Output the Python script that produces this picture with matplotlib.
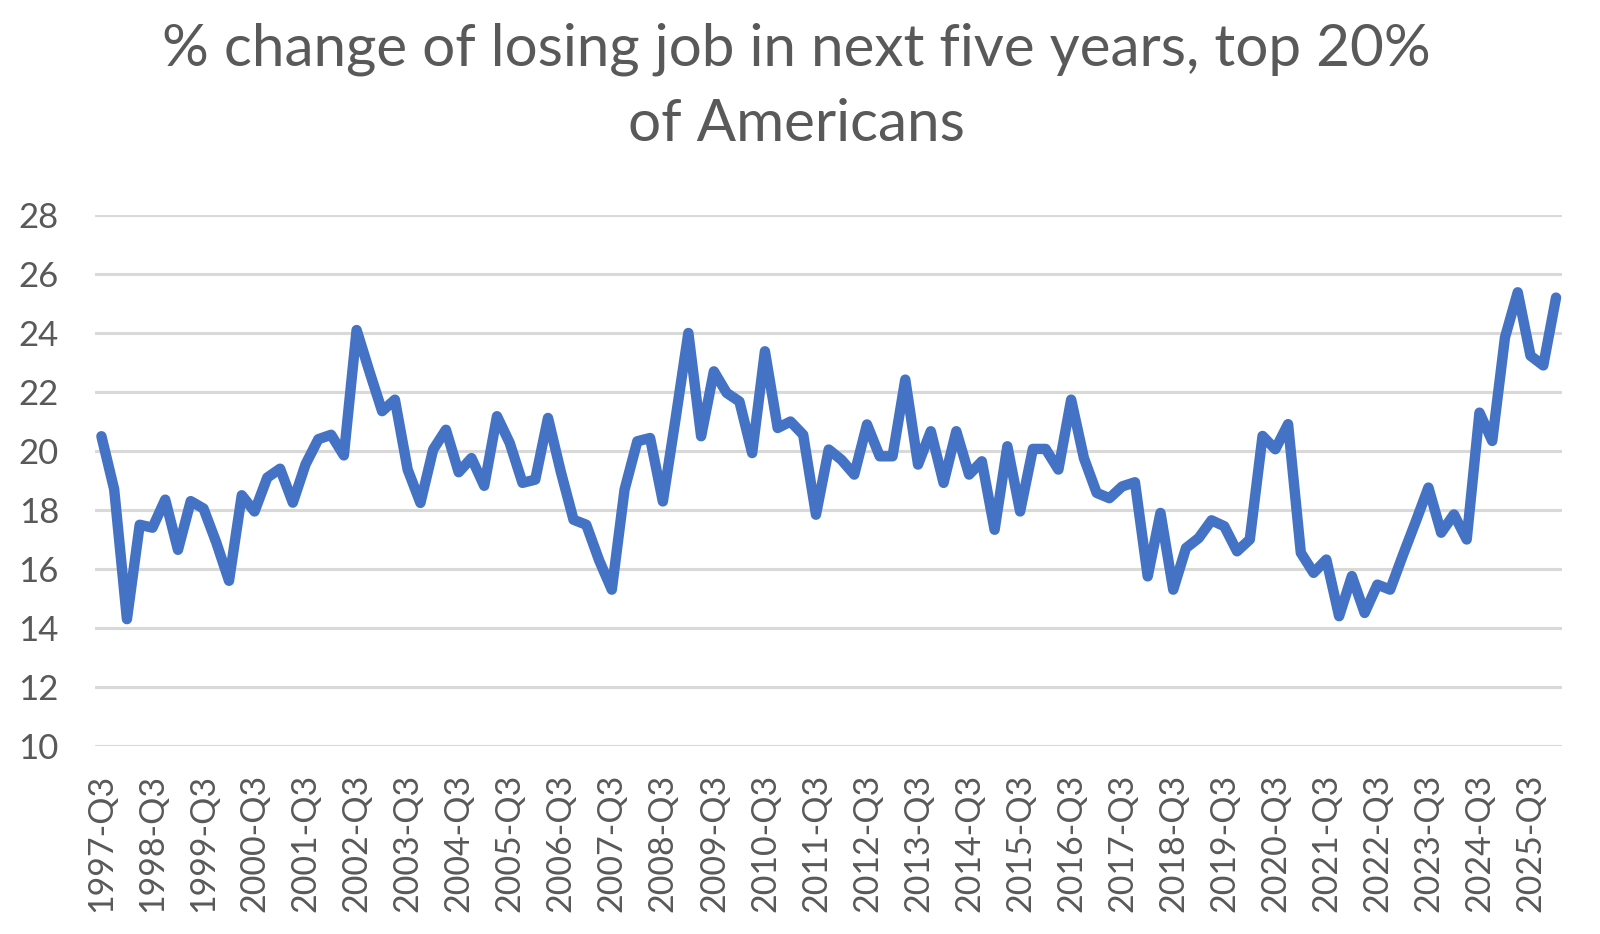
import matplotlib
matplotlib.use("Agg")
import matplotlib.pyplot as plt

plt.rcParams['font.family'] = ['Lato', 'DejaVu Sans']

# quarterly categories 1997-Q3 .. 2026-Q1
quarters = []
for year in range(1997, 2027):
    for q in range(1, 5):
        if (year == 1997 and q < 3) or (year == 2026 and q > 1):
            continue
        quarters.append("{}-Q{}".format(year, q))

# % chance of losing job in next five years, top 20%
values = [
    20.5, 18.7, 14.3, 17.5, 17.4, 18.35, 16.65, 18.3, 18.05, 16.9,
    15.6, 18.5, 17.95, 19.1, 19.4, 18.25, 19.55, 20.4, 20.55, 19.85,
    24.1, 22.7, 21.35, 21.74, 19.37, 18.24, 20.05, 20.72, 19.28, 19.76,
    18.82, 21.18, 20.27, 18.92, 19.03, 21.12, 19.3, 17.67, 17.5, 16.3,
    15.3, 18.69, 20.33, 20.44, 18.29, 21.1, 24.0, 20.5, 22.7, 21.97,
    21.68, 19.93, 23.38, 20.78, 21.0, 20.55, 17.84, 20.05, 19.7, 19.2,
    20.9, 19.82, 19.82, 22.42, 19.54, 20.67, 18.92, 20.67, 19.2, 19.65,
    17.33, 20.16, 17.95, 20.07, 20.07, 19.37, 21.74, 19.76, 18.58, 18.4,
    18.8, 18.94, 15.75, 17.9, 15.3, 16.71, 17.05, 17.65, 17.45, 16.6,
    17.0, 20.51, 20.06, 20.91, 16.55, 15.87, 16.32, 14.4, 15.76, 14.51,
    15.47, 15.3, 16.47, 17.6, 18.76, 17.23, 17.85, 17.0, 21.3, 20.34,
    23.85, 25.38, 23.23, 22.9, 25.2,
]

y_ticks = [10, 12, 14, 16, 18, 20, 22, 24, 26, 28]

text_color = "#595959"
grid_color = "#D9D9D9"
line_color = "#4472C4"

fig = plt.figure(figsize=(16, 9.34), dpi=100)
ax = fig.add_axes([0.0594, 0.2013, 0.9171, 0.5685])

x = list(range(len(values)))
ax.plot(x, values, color=line_color, linewidth=7.5, solid_joinstyle='round',
        solid_capstyle='round', zorder=3)

ax.set_xlim(-0.5, len(values) - 0.5)
ax.set_ylim(10, 28)
ax.set_yticks(y_ticks)
ax.set_yticklabels([str(t) for t in y_ticks])
ax.set_xticks(x[::4])
ax.set_xticklabels(quarters[::4], rotation=90)

for t in y_ticks:
    ax.axhline(t, color=grid_color, linewidth=2.2, zorder=1)

for side in ['top', 'right', 'left', 'bottom']:
    ax.spines[side].set_visible(False)
ax.tick_params(axis='both', length=0, colors=text_color)
ax.tick_params(axis='y', labelsize=25, pad=26)
ax.tick_params(axis='x', labelsize=24.5, pad=20)

fig.text(0.498, 0.907, "% change of losing job in next five years, top 20%\nof Americans",
         ha='center', va='center', fontsize=42, color=text_color, linespacing=1.52)

fig.savefig("out.png", dpi=100)
